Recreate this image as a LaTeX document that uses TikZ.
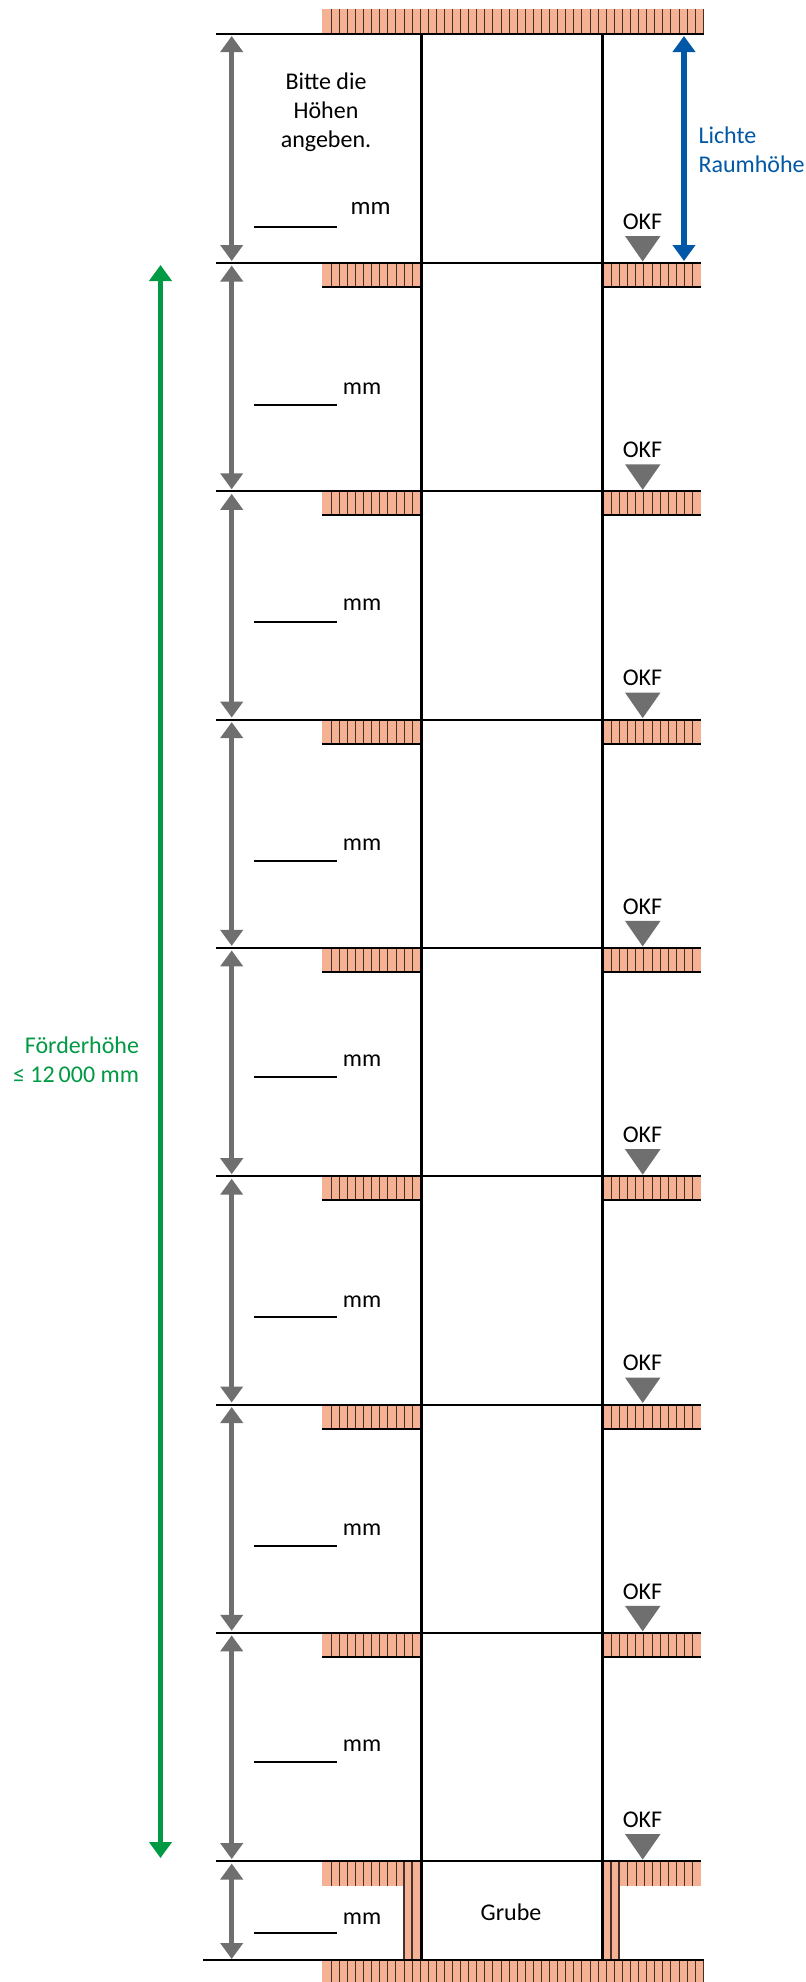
\documentclass[tikz,border=0pt]{standalone}
\usepackage{fontspec}
\setmainfont{Carlito}
\usetikzlibrary{arrows.meta}
\definecolor{brick}{HTML}{F4B193}
\definecolor{hatch}{HTML}{45302A}
\definecolor{dimgray}{HTML}{6F6F6F}
\definecolor{dimblue}{HTML}{0058A6}
\definecolor{dimgreen}{HTML}{009A44}
\tikzset{
  x=1pt,y=-1pt,
  every node/.style={inner sep=0pt,outer sep=0pt,font=\fontsize{24}{29}\selectfont,align=center},
  wall/.style={draw=black,line width=3pt},
  floorline/.style={draw=black,line width=2.8pt},
  hatchline/.style={draw=hatch,line width=1.9pt},
  slabfill/.style={fill=brick,draw=none},
  grayarrow/.style={draw=dimgray,line width=5.5pt,{Triangle[width=22pt,length=16pt]}-{Triangle[width=22pt,length=16pt]}},
  bluearrow/.style={draw=dimblue,line width=5.5pt,{Triangle[width=22pt,length=16pt]}-{Triangle[width=22pt,length=16pt]}},
  greenarrow/.style={draw=dimgreen,line width=5.5pt,{Triangle[width=22pt,length=16pt]}-{Triangle[width=22pt,length=16pt]}},
  okfmark/.style={fill=dimgray,draw=none},
  blank/.style={draw=black,line width=2.8pt},
}
\begin{document}
\begin{tikzpicture}
\useasboundingbox (0,0) rectangle (806,1982);
\fill[white] (0,0) rectangle (806,1982);
% top slab
\fill[slabfill] (322,9) rectangle (704,34);
\foreach \k in {0,...,46}{
  \pgfmathsetmacro{\xx}{round(330.7+8.09*\k)+0.5}
  \draw[hatchline] (\xx,9) -- (\xx,34);
}
% bottom slab
\fill[slabfill] (322,1961) rectangle (704,1982);
\foreach \k in {0,...,46}{
  \pgfmathsetmacro{\xx}{round(330.7+8.09*\k)+0.5}
  \draw[hatchline] (\xx,1961) -- (\xx,1982);
}
% intermediate floors
\foreach \i in {0,...,6}{
  \pgfmathsetmacro{\yy}{round(263+228.3*\i)}
  \fill[slabfill] (322,\yy) rectangle (421,\yy+24);
  \fill[slabfill] (602,\yy) rectangle (701,\yy+24);
  \foreach \k in {0,...,10}{
    \pgfmathsetmacro{\xa}{round(330.7+8.1*\k)+0.5}
    \pgfmathsetmacro{\xb}{round(611+8.1*\k)+0.5}
    \draw[hatchline] (\xa,\yy) -- (\xa,\yy+24);
    \draw[hatchline] (\xb,\yy) -- (\xb,\yy+24);
  }
  \draw[floorline] (322,\yy+24) -- (421,\yy+24);
  \draw[floorline] (602,\yy+24) -- (701,\yy+24);
}
% pit floor slabs and walls
\fill[slabfill] (322,1861) rectangle (421,1886);
\fill[slabfill] (403,1861) rectangle (421,1960);
\fill[slabfill] (602,1861) rectangle (701,1886);
\fill[slabfill] (602,1861) rectangle (619,1960);
\foreach \k in {0,...,8}{
  \pgfmathsetmacro{\xa}{round(330.7+8.1*\k)+0.5}
  \draw[hatchline] (\xa,1861) -- (\xa,1886);
}
\draw[hatchline] (404,1861) -- (404,1960);
\draw[hatchline] (412,1861) -- (412,1960);
\draw[hatchline] (611,1861) -- (611,1960);
\draw[hatchline] (619,1861) -- (619,1960);
\foreach \k in {0,...,9}{
  \pgfmathsetmacro{\xb}{round(619.3+8.1*\k)+0.5}
  \draw[hatchline] (\xb,1861) -- (\xb,1886);
}
% horizontal lines
\coordinate (topL) at (216,34); \coordinate (topR) at (704,34);
\coordinate (botL) at (203,1960); \coordinate (botR) at (704,1960);
\draw[floorline] (topL) -- (topR);
\draw[floorline] (botL) -- (botR);
\foreach \i in {0,...,7}{
  \pgfmathsetmacro{\yy}{round(263+228.3*\i)}
  \coordinate (fL\i) at (216,\yy);
  \coordinate (fR\i) at (701,\yy);
  \draw[floorline] (fL\i) -- (fR\i);
}
% shaft walls
\coordinate (wa) at (421.5,34); \coordinate (wb) at (421.5,1960);
\coordinate (wc) at (602.5,34); \coordinate (wd) at (602.5,1960);
\draw[wall] (wa) -- (wb);
\draw[wall] (wc) -- (wd);
% gray dimension arrows
\coordinate (gt) at (231.7,36);
\coordinate (g0) at (231.7,261);
\draw[grayarrow] (gt) -- (g0);
\foreach \i in {0,...,6}{
  \pgfmathsetmacro{\yy}{263+228.3*\i}
  \coordinate (ga\i) at (231.7,\yy+2.5);
  \coordinate (gb\i) at (231.7,\yy+228.3-2);
  \draw[grayarrow] (ga\i) -- (gb\i);
}
\coordinate (ga7) at (231.7,1863.5); \coordinate (gb7) at (231.7,1959);
\draw[grayarrow] (ga7) -- (gb7);
% blue and green arrows
\coordinate (ba) at (684,36); \coordinate (bb) at (684,261);
\draw[bluearrow] (ba) -- (bb);
\coordinate (gra) at (160.5,265); \coordinate (grb) at (160.5,1858);
\draw[greenarrow] (gra) -- (grb);
% OKF markers
\foreach \i in {0,...,7}{
  \pgfmathsetmacro{\yy}{263+228.3*\i}
  \fill[okfmark] (625,\yy-27) -- (660.5,\yy-27) -- (642.7,\yy-1.5) -- cycle;
  \node (okf\i) at (642.5,\yy-41.5) {OKF};
}
% entry blanks
\foreach \n/\ly/\my in {1/405/388.5,2/622/604.5,3/861/844.5,4/1077/1060.5,5/1317/1301.5,6/1546/1529.5,7/1762/1745.5,8/1933/1919}{
  \coordinate (la\n) at (254,\ly); \coordinate (lb\n) at (337,\ly);
  \draw[blank] (la\n) -- (lb\n);
  \node (mm\n) at (362,\my) {mm};
}
\coordinate (la0) at (254,227); \coordinate (lb0) at (337,227);
\draw[blank] (la0) -- (lb0);
\node[font=\fontsize{25}{29}\selectfont] (mm0) at (370.5,208.5) {mm};
% texts
\node (hint) at (326,112.5) {Bitte die\\Höhen\\angeben.};
\node[anchor=west,text=dimblue,align=left] (lichte) at (698.5,150) {Lichte\\Raumhöhe};
\node[anchor=east,text=dimgreen,align=right] (foerder) at (139,1060) {Förderhöhe\\≤ 12\,000 mm};
\node (grube) at (511,1912) {Grube};
\end{tikzpicture}
\end{document}
